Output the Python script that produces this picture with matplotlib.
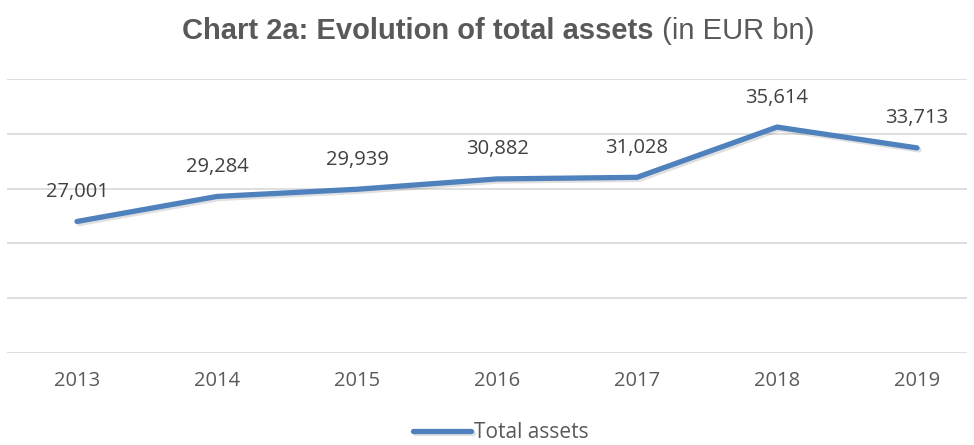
import matplotlib.pyplot as plt
import matplotlib.patheffects as pe

years = ["2013", "2014", "2015", "2016", "2017", "2018", "2019"]
total_assets = [27001, 29284, 29939, 30882, 31028, 35614, 33713]

line_color = "#4F81BD"
text_color = "#595959"

fig = plt.figure(figsize=(9.74, 4.45), dpi=100)
ax = fig.add_axes([7 / 974, 1 - 353 / 445, 960 / 974, (353 - 79) / 445])

x = list(range(len(years)))
ax.plot(x, total_assets, color=line_color, linewidth=3.8, solid_capstyle="round",
        label="Total assets",
        path_effects=[pe.SimpleLineShadow(offset=(1.5, -1.5), alpha=0.12, shadow_color="black"),
                      pe.Normal()])

for xi, v in zip(x, total_assets):
    ax.annotate(f"{v:,}", (xi, v), xytext=(0, 14), textcoords="offset points",
                ha="center", va="bottom", fontsize=14.5, color="#404040",
                family="Open Sans")

ax.set_ylim(15000, 40000)
ax.set_yticks(range(15000, 40001, 5000))
ax.set_xlim(-0.5, 6.357)
ax.set_xticks(x)
ax.set_xticklabels(years, fontsize=14.5, color=text_color, family="Open Sans")
ax.tick_params(axis="x", length=0, pad=13)
ax.tick_params(axis="y", length=0, labelleft=False)
ax.grid(axis="y", color="#d9d9d9", linewidth=1.2)
ax.set_axisbelow(True)
for s in ax.spines.values():
    s.set_visible(False)

# title: bold part + normal part
t1 = fig.text(182 / 974, 1 - 31 / 445, "Chart 2a: Evolution of total assets",
              fontsize=21, fontweight="bold", color=text_color,
              family="Liberation Sans", ha="left", va="center")
fig.canvas.draw()
bb = t1.get_window_extent()
fig.text(bb.x1 / fig.bbox.width, 1 - 31 / 445, " (in EUR bn)", fontsize=21,
         color=text_color, family="Liberation Sans", ha="left", va="center")

leg = fig.legend(loc="center", bbox_to_anchor=(0.514, 1 - 433 / 445), frameon=False,
                 handlelength=2.8, handletextpad=0.15,
                 prop={"family": "Open Sans", "size": 15})
for t in leg.get_texts():
    t.set_color(text_color)

fig.savefig("out.png", dpi=100)
